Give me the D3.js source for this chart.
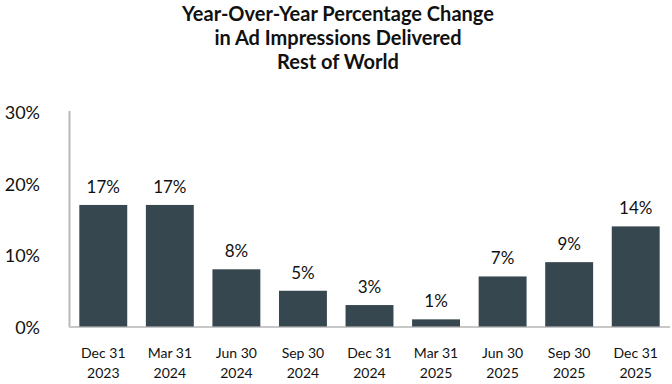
<!DOCTYPE html>
<html>
<head>
<meta charset="utf-8">
<script src="https://cdn.jsdelivr.net/npm/d3@7"></script>
<style>
  body { margin: 0; background: #fff; }
  text { font-family: Lato, "Open Sans", sans-serif; fill: #111; }
</style>
</head>
<body>
<svg id="chart" width="672" height="384"></svg>
<script>
const categories = [
  ["Dec 31", "2023"], ["Mar 31", "2024"], ["Jun 30", "2024"],
  ["Sep 30", "2024"], ["Dec 31", "2024"], ["Mar 31", "2025"],
  ["Jun 30", "2025"], ["Sep 30", "2025"], ["Dec 31", "2025"]
];
const values = [17, 17, 8, 5, 3, 1, 7, 9, 14];
const yTicks = [0, 10, 20, 30];
const titleLines = [
  "Year-Over-Year Percentage Change",
  "in Ad Impressions Delivered",
  "Rest of World"
];

const svg = d3.select("#chart");
const barColor = "#36474f";

const x = d3.scaleBand()
  .domain(d3.range(categories.length))
  .range([70, 669])
  .paddingInner(0.28)
  .paddingOuter(0.14);

const y = d3.scaleLinear().domain([0, 30]).range([326.5, 112]);

// title
svg.append("g")
  .selectAll("text")
  .data(titleLines)
  .enter()
  .append("text")
  .attr("x", 338)
  .attr("y", (d, i) => 21 + i * 24)
  .attr("text-anchor", "middle")
  .attr("font-size", "20px")
  .attr("font-weight", "bold")
  .text(d => d);

// y axis labels
svg.append("g")
  .selectAll("text")
  .data(yTicks)
  .enter()
  .append("text")
  .attr("x", 40)
  .attr("y", d => y(d) + 7)
  .attr("text-anchor", "end")
  .attr("font-size", "18px")
  .text(d => d + "%");

// axis lines
svg.append("line")
  .attr("x1", 69.5).attr("x2", 69.5)
  .attr("y1", 111).attr("y2", 327)
  .attr("stroke", "#b8b8b8").attr("stroke-width", 2);
svg.append("line")
  .attr("x1", 69).attr("x2", 670)
  .attr("y1", 327).attr("y2", 327)
  .attr("stroke", "#c8c8c8").attr("stroke-width", 2);

// bars
svg.append("g")
  .selectAll("rect")
  .data(values)
  .enter()
  .append("rect")
  .attr("x", (d, i) => x(i))
  .attr("width", x.bandwidth())
  .attr("y", d => y(d))
  .attr("height", d => y(0) - y(d))
  .attr("fill", barColor);

// value labels
svg.append("g")
  .selectAll("text")
  .data(values)
  .enter()
  .append("text")
  .attr("x", (d, i) => x(i) + x.bandwidth() / 2)
  .attr("y", d => y(d) - 12)
  .attr("text-anchor", "middle")
  .attr("font-size", "17px")
  .text(d => d + "%");

// category labels
const cat = svg.append("g")
  .selectAll("text")
  .data(categories)
  .enter()
  .append("text")
  .attr("text-anchor", "middle")
  .attr("font-size", "14px");
cat.append("tspan")
  .attr("x", (d, i) => x(i) + x.bandwidth() / 2)
  .attr("y", 358)
  .text(d => d[0]);
cat.append("tspan")
  .attr("x", (d, i) => x(i) + x.bandwidth() / 2)
  .attr("y", 378)
  .text(d => d[1]);
</script>
</body>
</html>
